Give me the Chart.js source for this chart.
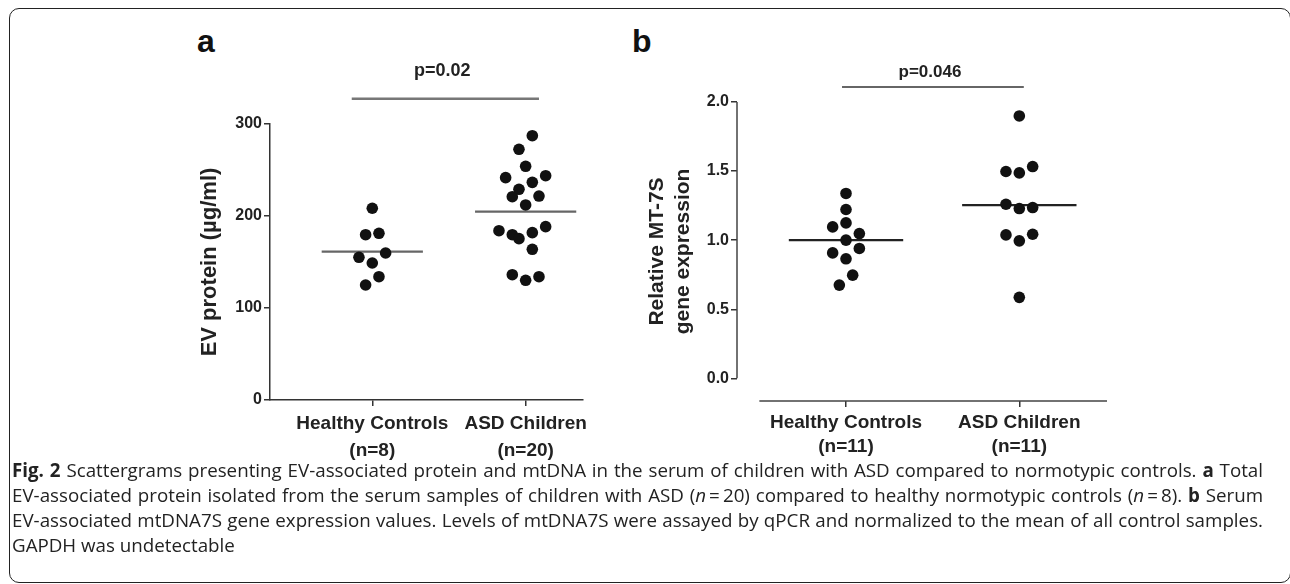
<!DOCTYPE html>
<html>
<head>
<meta charset="utf-8">
<script src="https://cdn.jsdelivr.net/npm/chart.js@4.4.1/dist/chart.umd.min.js"></script>
<style>
  body { margin: 0; width: 1290px; height: 584px; background: #fff; position: relative; overflow: hidden; font-family: "Liberation Sans", Arial, sans-serif; }
  .frame { position: absolute; left: 9px; top: 8px; width: 1282px; height: 575px; border: 1.5px solid #222; border-radius: 10px; box-sizing: border-box; }
  .lbl { position: absolute; font: bold 32px "Liberation Sans", Arial, sans-serif; line-height: 32px; color: #111; }
  canvas { position: absolute; }
  #caption { position: absolute; left: 12px; top: 457px; width: 1251px; font: 17px "Open Sans", sans-serif; line-height: 25px; color: #222; }
  #caption div { white-space: nowrap; }
  #caption div.j { text-align: justify; text-align-last: justify; white-space: normal; }
</style>
</head>
<body>
<div class="frame"></div>
<div class="lbl" style="left:197px; top:25px;">a</div>
<div class="lbl" style="left:632px; top:25px;">b</div>
<canvas id="chartA" width="430" height="440" style="left:180px; top:40px;"></canvas>
<canvas id="chartB" width="500" height="440" style="left:630px; top:40px;"></canvas>
<div id="caption">
  <div class="j"><b>Fig. 2</b> Scattergrams presenting EV-associated protein and mtDNA in the serum of children with ASD compared to normotypic controls. <b>a</b> Total</div>
  <div class="j">EV-associated protein isolated from the serum samples of children with ASD (<i>n</i>&#8201;=&#8201;20) compared to healthy normotypic controls (<i>n</i>&#8201;=&#8201;8). <b>b</b> Serum</div>
  <div class="j">EV-associated mtDNA7S gene expression values. Levels of mtDNA7S were assayed by qPCR and normalized to the mean of all control samples.</div>
  <div>GAPDH was undetectable</div>
</div>
<script>
// groups on the x axis
var groups = [1, 2];
var xLabelsA = [['Healthy Controls', '(n=8)'], ['ASD Children', '(n=20)']];
var xLabelsB = [['Healthy Controls', '(n=11)'], ['ASD Children', '(n=11)']];
var yTicksA = [0, 100, 200, 300];
var yTicksB = [0, 0.5, 1.0, 1.5, 2.0];

// panel a: EV protein (ug/ml), slot = column scatter offset
var proteinHC = [208.4, 179.7, 181.2, 155.1, 159.8, 148.9, 134.0, 125.0];
var proteinHCSlot = [0, -1, 1, -2, 2, 0, 1, -1];
var proteinASD = [287.3, 272.5, 254.0, 241.7, 243.8, 236.6, 229.0, 221.0, 221.7, 212.0,
                  184.0, 188.4, 179.7, 175.4, 181.9, 163.8, 136.2, 134.0, 130.1];
var proteinASDSlot = [1, -1, 0, -3, 3, 1, -1, -2, 2, 0,
                      -4, 3, -2, -1, 1, 1, -2, 2, 0];
var proteinMean = [161.2, 204.7];

// panel b: relative MT-7S expression
var mt7sHC = [1.338, 1.222, 1.125, 1.096, 1.048, 1.000, 0.908, 0.940, 0.865, 0.747, 0.675];
var mt7sHCSlot = [0, 0, 0, -2, 2, 0, -2, 2, 0, 1, -1];
var mt7sASD = [1.899, 1.497, 1.487, 1.533, 1.260, 1.229, 1.236, 1.038, 0.995, 1.043, 0.586];
var mt7sASDSlot = [0, -2, 0, 2, -2, 0, 2, -2, 0, 2, 0];
var mt7sMean = [1.0, 1.253];

var pTextA = 'p=0.02';
var pTextB = 'p=0.046';

var FONT = '"Liberation Sans", Arial, sans-serif';

// shrink the caption font until every justified line fits on one row
(function fitCaption() {
    var cap = document.getElementById('caption');
    var lines = cap.querySelectorAll('div.j');
    var size = 19;
    function fits() {
        for (var i = 0; i < lines.length; i++) {
            if (lines[i].offsetHeight > 26) return false;
        }
        return true;
    }
    cap.style.fontSize = size + 'px';
    while (!fits() && size > 12) {
        size -= 0.25;
        cap.style.fontSize = size + 'px';
    }
})();

function points(values, slots, group, slotWidth) {
    return values.map(function(v, i) {
        return { x: group + slots[i] * slotWidth, y: v };
    });
}

function meanLine(value, group) {
    return [{ x: group - 0.33, y: value }, { x: group + 0.33, y: value }];
}

// draws the p value text over the comparison bar
var pLabelPlugin = {
    id: 'pLabel',
    afterDatasetsDraw: function(chart, args, opts) {
        var ctx = chart.ctx;
        var x = chart.scales.x.getPixelForValue((opts.from + opts.to) / 2);
        var y = chart.scales.y.getPixelForValue(opts.y);
        ctx.save();
        ctx.font = 'bold ' + opts.size + 'px ' + FONT;
        ctx.fillStyle = '#222';
        ctx.textAlign = 'center';
        ctx.textBaseline = 'middle';
        ctx.fillText(opts.text, x - 3, y - opts.gap);
        ctx.restore();
    }
};

// GraphPad style detached axes for panel b
var offsetAxesPlugin = {
    id: 'offsetAxes',
    afterDraw: function(chart, args, opts) {
        if (!opts.enabled) return;
        var ctx = chart.ctx, a = chart.chartArea;
        var sx = chart.scales.x, sy = chart.scales.y;
        ctx.save();
        ctx.strokeStyle = '#444';
        ctx.lineWidth = 1.5;
        ctx.beginPath();
        ctx.moveTo(a.left, sy.getPixelForValue(opts.yFrom));
        ctx.lineTo(a.left, sy.getPixelForValue(opts.yTo));
        ctx.moveTo(sx.getPixelForValue(opts.xFrom), a.bottom);
        ctx.lineTo(a.right, a.bottom);
        ctx.stroke();
        ctx.restore();
    }
};

function makeChart(id, cfg) {
    var ctx = document.getElementById(id).getContext('2d');
    return new Chart(ctx, {
        type: 'scatter',
        data: {
            datasets: [
                { data: points(cfg.hc, cfg.hcSlot, groups[0], cfg.slot), backgroundColor: '#111', borderWidth: 0, pointRadius: 5.8 },
                { data: points(cfg.asd, cfg.asdSlot, groups[1], cfg.slot), backgroundColor: '#111', borderWidth: 0, pointRadius: 5.8 },
                { type: 'line', data: meanLine(cfg.mean[0], groups[0]), borderColor: cfg.meanColor, borderWidth: 2.2, pointRadius: 0 },
                { type: 'line', data: meanLine(cfg.mean[1], groups[1]), borderColor: cfg.meanColor, borderWidth: 2.2, pointRadius: 0 },
                { type: 'line', data: [{ x: cfg.pBar.from, y: cfg.pBar.y }, { x: cfg.pBar.to, y: cfg.pBar.y }],
                  borderColor: cfg.pBar.color, borderWidth: cfg.pBar.width, pointRadius: 0, clip: false }
            ]
        },
        options: {
            responsive: false,
            animation: false,
            devicePixelRatio: 1,
            layout: { padding: cfg.padding },
            plugins: {
                legend: { display: false },
                tooltip: { enabled: false },
                pLabel: { text: cfg.pText, from: cfg.pBar.from, to: cfg.pBar.to, y: cfg.pBar.y, gap: cfg.pGap, size: cfg.pSize },
                offsetAxes: cfg.offsetAxes
            },
            scales: {
                x: {
                    type: 'linear',
                    min: cfg.xMin, max: cfg.xMax,
                    afterBuildTicks: function(s) { s.ticks = groups.map(function(g) { return { value: g }; }); },
                    afterFit: function(s) { s.height = cfg.xHeight; },
                    border: { display: !cfg.offsetAxes.enabled, color: '#333', width: 1.5 },
                    grid: { drawOnChartArea: false, drawTicks: true, tickLength: 6, color: '#333', lineWidth: 1.5 },
                    ticks: {
                        autoSkip: false, maxRotation: 0, padding: 4, color: '#222',
                        font: { family: FONT, size: 19, weight: 'bold', lineHeight: cfg.xLineHeight },
                        callback: function(v) { return cfg.xLabels[groups.indexOf(v)]; }
                    }
                },
                y: {
                    min: cfg.yMin, max: cfg.yMax,
                    afterBuildTicks: function(s) { s.ticks = cfg.yTicks.map(function(v) { return { value: v }; }); },
                    afterFit: function(s) { s.width = cfg.yWidth; },
                    border: { display: !cfg.offsetAxes.enabled, color: '#333', width: 1.5 },
                    grid: { drawOnChartArea: false, drawTicks: true, tickLength: 6, color: '#333', lineWidth: 1.5 },
                    ticks: {
                        autoSkip: false, padding: 2, color: '#222',
                        font: { family: FONT, size: 16, weight: 'bold' },
                        callback: cfg.yFormat
                    },
                    title: {
                        display: true, text: cfg.yTitle, color: '#222',
                        font: { family: FONT, size: cfg.yTitleSize, weight: 'bold', lineHeight: cfg.yTitleLH },
                        padding: { top: cfg.yTitlePad, bottom: 0 }
                    }
                }
            }
        },
        plugins: [pLabelPlugin, offsetAxesPlugin]
    });
}

makeChart('chartA', {
    hc: proteinHC, hcSlot: proteinHCSlot, asd: proteinASD, asdSlot: proteinASDSlot, mean: proteinMean,
    slot: 0.0435, meanColor: '#666',
    pText: pTextA, pGap: 28, pSize: 18,
    pBar: { from: 0.866, to: 2.087, y: 327.5, color: '#777', width: 2.5 },
    padding: { top: 84, right: 27, left: 0, bottom: 0 },
    xMin: 0.333, xMax: 2.374, xHeight: 80, xLineHeight: 27 / 19, xLabels: xLabelsA,
    yMin: 0, yMax: 300, yTicks: yTicksA, yWidth: 90,
    yFormat: function(v) { return String(v); },
    yTitle: 'EV protein (\u00b5g/ml)', yTitleSize: 22, yTitleLH: 1.2, yTitlePad: 17,
    offsetAxes: { enabled: false }
});

makeChart('chartB', {
    hc: mt7sHC, hcSlot: mt7sHCSlot, asd: mt7sASD, asdSlot: mt7sASDSlot, mean: mt7sMean,
    slot: 0.0385, meanColor: '#222',
    pText: pTextB, pGap: 15, pSize: 17,
    pBar: { from: 0.977, to: 2.026, y: 2.108, color: '#333', width: 1.5 },
    padding: { top: 62, right: 23, left: 0, bottom: 0 },
    xMin: 0.371, xMax: 2.506, xHeight: 79, xLineHeight: 24 / 19, xLabels: xLabelsB,
    yMin: -0.164, yMax: 2.0, yTicks: yTicksB, yWidth: 107,
    yFormat: function(v) { return v.toFixed(1); },
    yTitle: ['Relative MT-7S', 'gene expression'], yTitleSize: 21, yTitleLH: 26 / 21, yTitlePad: 14,
    offsetAxes: { enabled: true, yFrom: 0, yTo: 2.0, xFrom: 0.5 }
});
</script>
</body>
</html>
